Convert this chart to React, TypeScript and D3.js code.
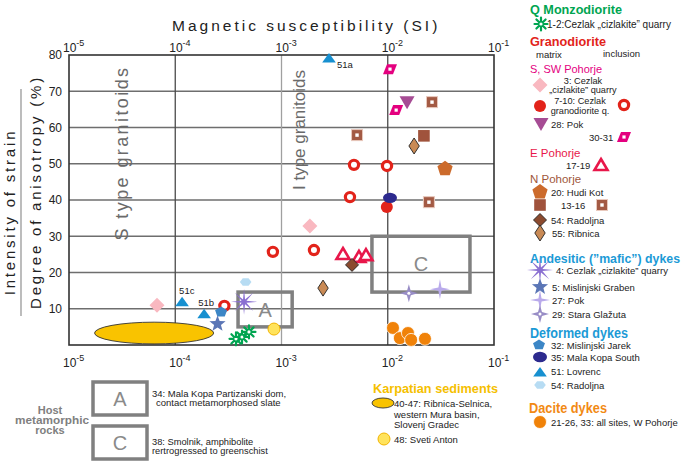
import React from 'react';
import * as d3 from 'd3';

// ---------- data ----------
const xTicks = [1e-5, 1e-4, 1e-3, 1e-2, 1e-1];
const xTickExp = ['-5', '-4', '-3', '-2', '-1'];
const yTicks = [10, 20, 30, 40, 50, 60, 70, 80];

// Q Monzodiorite 1-2
const monzoK = [0.000373, 0.000425, 0.000494];
const monzoP = [1.7, 2.2, 3.6];
// Granodiorite matrix / inclusion (7-10)
const matrixK = [0.0098];
const matrixP = [38.1];
const inclusionK = [0.00029, 0.00083, 0.00202, 0.00441, 0.00481, 0.00984];
const inclusionP = [10.8, 25.7, 26.2, 40.8, 49.7, 49.4];
// 3: Cezlak cizlakite quarry
const cezlakK = [0.0000673, 0.00185];
const cezlakP = [11.0, 32.8];
// 28: Pok
const pokK = [0.0152];
const pokP = [67.0];
// 30-31
const paraK = [0.0105, 0.012];
const paraP = [76.1, 64.8];
// E Pohorje 17-19
const ePohK = [0.00379, 0.00536, 0.00624];
const ePohP = [25.1, 24.3, 24.8];
// N Pohorje
const hudiK = [0.0346];
const hudiP = [48.6];
const nSqK = [0.0219];
const nSqP = [57.7];
const nSqIncK = [0.0261, 0.00514, 0.0244];
const nSqIncP = [67.0, 57.9, 39.4];
const radK = [0.00461];
const radP = [22.1];
const ribK = [0.0177, 0.00246];
const ribP = [54.9, 15.7];
// Andesitic dykes
const and4K = [0.000444];
const and4P = [11.9];
const and5K = [0.00025];
const and5P = [5.8];
const and27K = [0.031];
const and27P = [15.4];
const and29K = [0.0158];
const and29P = [14.3];
// Deformed dykes
const def32K = [0.00027];
const def32P = [9.1];
const def35K = [0.0105];
const def35P = [40.6];
const def51K = [0.0028, 0.000187, 0.000116];
const def51P = [79.2, 8.6, 11.9];
const def51Labels = ['51a', '51b', '51c'];
const def54K = [0.00046];
const def54P = [17.4];
// Dacite dykes
const daciteK = [0.0112, 0.013, 0.0155, 0.0166, 0.0224];
const daciteP = [4.7, 1.9, 3.3, 1.4, 1.7];
// Karpatian sediments (ellipse extent) and 48: Sveti Anton
const karpK = [0.0000174, 0.00023];
const karpP = [0.3, 6.3];
const antonK = [0.00085];
const antonP = [4.4];
// Host metamorphic rocks boxes
const boxAK = [0.00039, 0.00126];
const boxAP = [5.0, 14.6];
const boxCK = [0.0071, 0.0594];
const boxCP = [14.6, 30.0];

// ---------- layout ----------
const W = 685;
const H = 462;
const FONT = '"Liberation Sans", Arial, sans-serif';
const x = d3.scaleLog().domain([1e-5, 1e-1]).range([69, 494]);
const y = d3.scaleLinear().domain([0, 80]).range([345, 55]);
const label51Off = [[8, 10], [-6, -8], [-3, -8]];

function starPath(n: number, ro: number, ri: number, rot = -Math.PI / 2) {
  const pts: string[] = [];
  for (let i = 0; i < 2 * n; i++) {
    const r = i % 2 === 0 ? ro : ri;
    const a = rot + (i * Math.PI) / n;
    pts.push(`${(r * Math.cos(a)).toFixed(2)},${(r * Math.sin(a)).toFixed(2)}`);
  }
  return 'M' + pts.join('L') + 'Z';
}
function polyPath(n: number, r: number, rot = -Math.PI / 2, sx = 1, sy = 1) {
  const pts: string[] = [];
  for (let i = 0; i < n; i++) {
    const a = rot + (i * 2 * Math.PI) / n;
    pts.push(`${(sx * r * Math.cos(a)).toFixed(2)},${(sy * r * Math.sin(a)).toFixed(2)}`);
  }
  return 'M' + pts.join('L') + 'Z';
}

function Marker({ kind, cx, cy }: { kind: string; cx: number; cy: number }) {
  const t = `translate(${cx},${cy})`;
  switch (kind) {
    case 'asterisk': {
      const r = 6.5;
      let d = '';
      for (let i = 0; i < 4; i++) {
        const a = (i * Math.PI) / 4;
        d += `M${-r * Math.cos(a)},${-r * Math.sin(a)}L${r * Math.cos(a)},${r * Math.sin(a)}`;
      }
      return (
        <g transform={t}>
          <path d={d} stroke="#00a551" strokeWidth={2.2} strokeLinecap="round" />
          <circle r={1.6} fill="#fff" />
        </g>
      );
    }
    case 'redDot':
      return <circle transform={t} r={6} fill="#e2231a" />;
    case 'redRing':
      return <circle transform={t} r={4.6} fill="#fff" stroke="#e2231a" strokeWidth={3.2} />;
    case 'pinkDiamond':
      return <path transform={t} d="M0,-7.5L7.5,0L0,7.5L-7.5,0Z" fill="#f9b8c0" />;
    case 'pokTri':
      return <path transform={t} d="M-7.5,-6L7.5,-6L0,7Z" fill="#a64c94" />;
    case 'para':
      return (
        <g transform={t}>
          <path d="M-3,-5L7,-5L3,5L-7,5Z" fill="#e4007f" />
          <rect x={-1.6} y={-1.6} width={3.2} height={3.2} fill="#fff" />
        </g>
      );
    case 'eTri':
      return <path transform={t} d="M0,-6L6.5,5L-6.5,5Z" fill="#fff" stroke="#e8174a" strokeWidth={2.6} strokeLinejoin="miter" />;
    case 'hudi':
      return <path transform={t} d={polyPath(5, 8)} fill="#cc6b2c" />;
    case 'brownSq':
      return <rect transform={t} x={-5.8} y={-5.8} width={11.6} height={11.6} fill="#a0533c" />;
    case 'brownSqC':
      return (
        <g transform={t}>
          <rect x={-5.5} y={-5.5} width={11} height={11} fill="#a35a44" stroke="#e9c9bd" strokeWidth={1} />
          <rect x={-1.7} y={-1.7} width={3.4} height={3.4} fill="#fff" />
        </g>
      );
    case 'radDiamond':
      return <path transform={t} d="M0,-6.5L6.5,0L0,6.5L-6.5,0Z" fill="#8b4a2e" stroke="#222" strokeWidth={0.9} />;
    case 'ribDiamond':
      return <path transform={t} d="M0,-8L5.2,0L0,8L-5.2,0Z" fill="#c98a55" stroke="#222" strokeWidth={0.9} />;
    case 'star8':
      return <path transform={t} d={starPath(8, 13, 2.6, 0)} fill="#8a6fd1" />;
    case 'star5':
      return <path transform={t} d={starPath(5, 8.5, 3.6)} fill="#5b76b6" />;
    case 'star4light':
      return <path transform={t} d={starPath(4, 10, 2.2)} fill="#b9aaeb" />;
    case 'star4':
      return (
        <g transform={t}>
          <path d={starPath(4, 9, 2.8)} fill="#988dc6" />
          <circle r={1.5} fill="#fff" />
        </g>
      );
    case 'pent32':
      return <path transform={t} d={polyPath(5, 6, -Math.PI / 2, 1.05, 0.9)} fill="#3c86c6" />;
    case 'ellipse35':
      return <ellipse transform={t} rx={7} ry={5.2} fill="#2d2a8e" />;
    case 'tri51':
      return <path transform={t} d="M0,-5L6.8,4.5L-6.8,4.5Z" fill="#1790d0" />;
    case 'hex54':
      return <path transform={t} d={polyPath(6, 5.8, 0, 1, 0.75)} fill="#b7dcf3" />;
    case 'dacite':
      return <circle transform={t} r={6.5} fill="#f08209" stroke="#fff" strokeWidth={0.8} />;
    case 'anton':
      return <circle transform={t} r={6} fill="#ffe35c" stroke="#f2b400" strokeWidth={1} />;
    default:
      return null;
  }
}

function series(kind: string, ks: number[], ps: number[]) {
  return ks.map((k, i) => <Marker key={kind + i} kind={kind} cx={x(k)} cy={y(ps[i])} />);
}

function Box({ ks, ps, letter }: { ks: number[]; ps: number[]; letter: string }) {
  const x0 = x(ks[0]);
  const x1 = x(ks[1]);
  const y0 = y(ps[1]);
  const y1 = y(ps[0]);
  return (
    <g>
      <rect x={x0} y={y0} width={x1 - x0} height={y1 - y0} fill="none" stroke="#808080" strokeWidth={3.5} />
      <text x={(x0 + x1) / 2} y={(y0 + y1) / 2} dy="0.36em" textAnchor="middle" fontSize={20} fill="#8a8a8a">
        {letter}
      </text>
    </g>
  );
}

function LegendText({ x: lx, y: ly, children, anchor = 'start', size = 9.5 }: any) {
  return (
    <text x={lx} y={ly} fontSize={size} fill="#222" textAnchor={anchor}>
      {children}
    </text>
  );
}

function Heading({ x: hx, y: hy, color, len, size = 13, bold = true, children }: any) {
  return (
    <text
      x={hx}
      y={hy}
      fontSize={size}
      fontWeight={bold ? 'bold' : 'normal'}
      fill={color}
      textLength={len}
      lengthAdjust="spacingAndGlyphs"
    >
      {children}
    </text>
  );
}

export default function App() {
  const left = x(1e-5);
  const right = x(1e-1);
  const top = y(80);
  const bottom = y(0);
  return (
    <svg width={W} height={H} style={{ position: 'absolute', left: 0, top: 0, background: '#fff' }} fontFamily={FONT}>
      <rect width={W} height={H} fill="#fff" />
      {/* grid */}
      {yTicks.slice(0, -1).map((v) => (
        <line key={'h' + v} x1={left} x2={right} y1={y(v)} y2={y(v)} stroke="#6e6e6e" strokeWidth={1.3} />
      ))}
      {xTicks.slice(1, -1).map((v) => (
        <line key={'v' + v} x1={x(v)} x2={x(v)} y1={top} y2={bottom} stroke={v === 1e-3 ? '#a0a0a0' : '#4a4a4a'} strokeWidth={1.3} />
      ))}
      <rect x={left} y={top} width={right - left} height={bottom - top} fill="none" stroke="#333" strokeWidth={1.6} />

      {/* y tick labels */}
      {yTicks.map((v) => (
        <text key={'yt' + v} x={62} y={y(v)} dy="0.36em" textAnchor="end" fontSize={12} fill="#222">
          {v}
        </text>
      ))}
      {/* x tick labels top & bottom */}
      {xTicks.map((v, i) => (
        <g key={'xt' + i}>
          <text x={x(v) - 6} y={52} fontSize={12} fill="#222">
            10<tspan dy={-6} fontSize={9}>{xTickExp[i]}</tspan>
          </text>
          <text x={x(v) - 6} y={367} fontSize={12} fill="#222">
            10<tspan dy={-6} fontSize={9}>{xTickExp[i]}</tspan>
          </text>
        </g>
      ))}

      {/* axis titles */}
      <text x={172} y={31} fontSize={15.5} letterSpacing={3} fill="#222">
        Magnetic susceptibility (SI)
      </text>
      <text transform="translate(15,212) rotate(-90)" textAnchor="middle" fontSize={15} letterSpacing={2.8} fill="#222">
        Intensity of strain
      </text>
      <line x1={21} x2={21} y1={89} y2={316} stroke="#999" strokeWidth={1.3} />
      <text transform="translate(41,192) rotate(-90)" textAnchor="middle" fontSize={15} letterSpacing={2.8} fill="#222">
        Degree of anisotropy (%)
      </text>

      {/* granitoid type labels */}
      <text transform="translate(128,153) rotate(-90)" textAnchor="middle" fontSize={18} letterSpacing={2.4} fill="#6a6a6a">
        S type granitoids
      </text>
      <text transform="translate(305,130) rotate(-90)" textAnchor="middle" fontSize={17} fill="#6a6a6a">
        I type granitoids
      </text>

      {/* Karpatian ellipse */}
      <ellipse
        cx={(x(karpK[0]) + x(karpK[1])) / 2}
        cy={(y(karpP[0]) + y(karpP[1])) / 2}
        rx={(x(karpK[1]) - x(karpK[0])) / 2}
        ry={(y(karpP[0]) - y(karpP[1])) / 2}
        fill="#f9c300"
        stroke="#333"
        strokeWidth={0.9}
      />
      <Box ks={boxAK} ps={boxAP} letter="A" />
      <Box ks={boxCK} ps={boxCP} letter="C" />

      {/* markers */}
      {series('redRing', inclusionK, inclusionP)}
      {series('redDot', matrixK, matrixP)}
      {series('pinkDiamond', cezlakK, cezlakP)}
      {series('pokTri', pokK, pokP)}
      {series('para', paraK, paraP)}
      {series('eTri', ePohK, ePohP)}
      {series('hudi', hudiK, hudiP)}
      {series('brownSq', nSqK, nSqP)}
      {series('brownSqC', nSqIncK, nSqIncP)}
      {series('radDiamond', radK, radP)}
      {series('ribDiamond', ribK, ribP)}
      {series('ellipse35', def35K, def35P)}
      {series('hex54', def54K, def54P)}
      {series('pent32', def32K, def32P)}
      {series('tri51', def51K, def51P)}
      {series('star5', and5K, and5P)}
      {series('star8', and4K, and4P)}
      {series('star4', and29K, and29P)}
      {series('star4light', and27K, and27P)}
      {series('dacite', daciteK, daciteP)}
      {series('anton', antonK, antonP)}
      {series('asterisk', monzoK, monzoP)}
      {def51K.map((k, i) => (
        <text key={'l51' + i} x={x(k) + label51Off[i][0]} y={y(def51P[i]) + label51Off[i][1]} fontSize={9.5} fill="#222">
          {def51Labels[i]}
        </text>
      ))}

      {/* legend */}
      <Heading x={530} y={14} color="#00a551" len={92}>Q Monzodiorite</Heading>
      <Marker kind="asterisk" cx={541} cy={24} />
      <LegendText x={547} y={28} size={10}>1-2:Cezlak „cizlakite” quarry</LegendText>
      <Heading x={530} y={46} color="#e2231a" len={76}>Granodiorite</Heading>
      <LegendText x={536} y={58}>matrix</LegendText>
      <LegendText x={603} y={57}>inclusion</LegendText>
      <Heading x={530} y={73} color="#e4007f" len={72} size={11.5} bold={false}>S, SW Pohorje</Heading>
      <Marker kind="pinkDiamond" cx={540} cy={85} />
      <LegendText x={583} y={84} anchor="middle" size={9.2}>3: Cezlak</LegendText>
      <LegendText x={583} y={93} anchor="middle" size={9.2}>„cizlakite” quarry</LegendText>
      <Marker kind="redDot" cx={540} cy={106} />
      <LegendText x={580} y={104} anchor="middle" size={9.2}>7-10: Cezlak</LegendText>
      <LegendText x={580} y={114} anchor="middle" size={9.2}>granodiorite q.</LegendText>
      <Marker kind="redRing" cx={624} cy={105} />
      <Marker kind="pokTri" cx={541} cy={124} />
      <LegendText x={551} y={128}>28: Pok</LegendText>
      <LegendText x={589} y={141}>30-31</LegendText>
      <Marker kind="para" cx={624} cy={137} />
      <text x={530} y={157} fontSize={11.5} fill="#e8174a">E Pohorje</text>
      <LegendText x={566} y={169}>17-19</LegendText>
      <Marker kind="eTri" cx={601} cy={165} />
      <text x={530} y={183} fontSize={11.5} fill="#a0573b">N Pohorje</text>
      <Marker kind="hudi" cx={540} cy={192} />
      <LegendText x={551} y={196}>20: Hudi Kot</LegendText>
      <Marker kind="brownSq" cx={540} cy={205} />
      <LegendText x={561} y={209}>13-16</LegendText>
      <Marker kind="brownSqC" cx={602} cy={205} />
      <Marker kind="radDiamond" cx={540} cy={220} />
      <LegendText x={551} y={224}>54: Radoljna</LegendText>
      <Marker kind="ribDiamond" cx={540} cy={233} />
      <LegendText x={552} y={237}>55: Ribnica</LegendText>

      <Heading x={530} y={263} color="#1b9ad6" len={150} size={13}>Andesitic (”mafic”) dykes</Heading>
      <Marker kind="star8" cx={540} cy={270} />
      <LegendText x={556} y={274}>4: Cezlak „cizlakite” quarry</LegendText>
      <Marker kind="star5" cx={540} cy={287} />
      <LegendText x={552} y={291}>5: Mislinjski Graben</LegendText>
      <Marker kind="star4light" cx={540} cy={300} />
      <LegendText x={552} y={304}>27: Pok</LegendText>
      <Marker kind="star4" cx={540} cy={314} />
      <LegendText x={552} y={318}>29: Stara Glažuta</LegendText>

      <Heading x={530} y={338} color="#1b9ad6" len={98} size={14}>Deformed dykes</Heading>
      <Marker kind="pent32" cx={539} cy={345} />
      <LegendText x={551} y={349}>32: Mislinjski Jarek</LegendText>
      <Marker kind="ellipse35" cx={540} cy={357} />
      <LegendText x={551} y={361}>35: Mala Kopa South</LegendText>
      <Marker kind="tri51" cx={540} cy={372} />
      <LegendText x={551} y={375}>51: Lovrenc</LegendText>
      <Marker kind="hex54" cx={540} cy={385} />
      <LegendText x={551} y={389}>54: Radoljna</LegendText>

      <Heading x={529} y={413} color="#f28a14" len={78} size={14}>Dacite dykes</Heading>
      <Marker kind="dacite" cx={540} cy={422} />
      <LegendText x={551} y={426}>21-26, 33: all sites, W Pohorje</LegendText>

      {/* Karpatian legend */}
      <Heading x={373} y={393} color="#f5c000" len={125} size={13}>Karpatian sediments</Heading>
      <ellipse cx={383} cy={403} rx={11} ry={5} fill="#f9c300" stroke="#333" strokeWidth={0.9} />
      <LegendText x={394} y={407}>40-47: Ribnica-Selnica,</LegendText>
      <LegendText x={394} y={418}>western Mura basin,</LegendText>
      <LegendText x={394} y={428}>Slovenj Gradec</LegendText>
      <Marker kind="anton" cx={384} cy={439} />
      <LegendText x={394} y={443}>48: Sveti Anton</LegendText>

      {/* Host metamorphic rocks */}
      <text x={50} y={414} textAnchor="middle" fontSize={11} fontWeight="bold" fill="#808080">Host</text>
      <text x={52} y={424} textAnchor="middle" fontSize={11} fontWeight="bold" fill="#808080" textLength={74} lengthAdjust="spacingAndGlyphs">metamorphic</text>
      <text x={50} y={434} textAnchor="middle" fontSize={11} fontWeight="bold" fill="#808080">rocks</text>
      <rect x={93} y={382} width={54} height={33} fill="none" stroke="#808080" strokeWidth={3.5} />
      <text x={120} y={398.5} dy="0.36em" textAnchor="middle" fontSize={20} fill="#8a8a8a">A</text>
      <rect x={93} y={426} width={54} height={33} fill="none" stroke="#808080" strokeWidth={3.5} />
      <text x={120} y={442.5} dy="0.36em" textAnchor="middle" fontSize={20} fill="#8a8a8a">C</text>
      <LegendText x={152} y={397}>34: Mala Kopa Partizanski dom,</LegendText>
      <LegendText x={156} y={406}>contact metamorphosed slate</LegendText>
      <LegendText x={152} y={445} size={9.3}>38: Smolnik, amphibolite</LegendText>
      <LegendText x={152} y={454} size={9.3}>rertrogressed to greenschist</LegendText>
    </svg>
  );
}
